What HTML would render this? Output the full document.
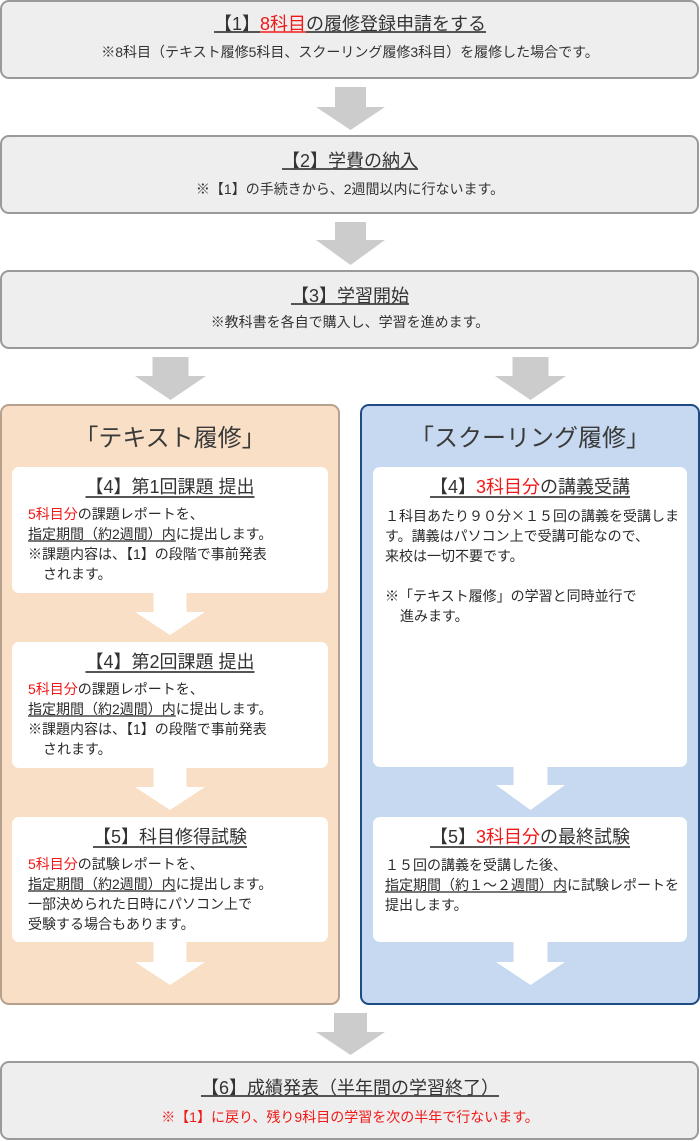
<!DOCTYPE html>
<html><head><meta charset="utf-8">
<style>
html,body{margin:0;padding:0;background:#fff;}
#c{position:relative;width:700px;height:1141px;overflow:hidden;background:#fff;}
svg{position:absolute;left:0;top:0;}
.t{position:absolute;white-space:nowrap;font-family:"Liberation Sans","Noto Sans CJK JP",sans-serif;color:#333;}
.ctr{left:0;width:700px;text-align:center;}
.tt{font-size:18px;line-height:24px;}
.tt .u{text-decoration:underline;text-decoration-thickness:2px;text-underline-offset:1px;text-decoration-color:#555;}
.sub{font-size:14px;line-height:20px;}
.r{color:#f01818;}
.tt .u .r{text-decoration:underline;text-decoration-thickness:2px;text-underline-offset:1px;text-decoration-color:#f05050;}
.hd{font-size:24px;line-height:30px;text-align:center;color:#3a3a3a;}
.it{font-size:18px;line-height:24px;text-align:center;color:#333;}
.it .u{text-decoration:underline;text-decoration-thickness:2px;text-underline-offset:3px;text-decoration-color:#555;}
.bd{font-size:14px;line-height:20px;color:#2a2a2a;}
.bd .u{text-decoration:underline;text-decoration-thickness:2px;text-underline-offset:1px;text-decoration-color:#777;}
.cj{font-family:"Noto Sans CJK JP",sans-serif;}
.ind{padding-left:15px;}
</style></head>
<body><div id="c">
<svg width="700" height="1141" viewBox="0 0 700 1141">
  <rect x="1" y="1" width="697" height="77" rx="8" fill="#eeeeee" stroke="#9a9a9a" stroke-width="2"/>
  <rect x="1" y="136" width="697" height="77" rx="8" fill="#eeeeee" stroke="#9a9a9a" stroke-width="2"/>
  <rect x="1" y="271" width="697" height="77" rx="8" fill="#eeeeee" stroke="#9a9a9a" stroke-width="2"/>
  <rect x="1" y="1062" width="697" height="77" rx="8" fill="#eeeeee" stroke="#9a9a9a" stroke-width="2"/>
  <polygon fill="#cccccc" points="335,87 366,87 366,107 385,107 350.5,130 316,107 335,107"/>
  <polygon fill="#cccccc" points="335,222 366,222 366,240 385,240 350.5,265 316,240 335,240"/>
  <polygon fill="#cccccc" points="152.5,357 188.5,357 188.5,376 206,376 170.5,400 135,376 152.5,376"/>
  <polygon fill="#cccccc" points="512.5,357 548.5,357 548.5,376 566,376 530.5,400 495,376 512.5,376"/>
  <polygon fill="#cccccc" points="334,1013 367,1013 367,1032 385,1032 350.5,1055 316,1032 334,1032"/>
  <rect x="1" y="405" width="338" height="599" rx="8" fill="#f9dfc5" stroke="#b6a18d" stroke-width="2"/>
  <rect x="361" y="405" width="338" height="599" rx="8" fill="#c6d9f0" stroke="#1f4b85" stroke-width="2"/>
  <rect x="12" y="467" width="316" height="126" rx="7" fill="#ffffff"/>
  <rect x="12" y="642" width="316" height="126" rx="7" fill="#ffffff"/>
  <rect x="12" y="817" width="316" height="125" rx="7" fill="#ffffff"/>
  <rect x="373" y="467" width="314" height="300" rx="7" fill="#ffffff"/>
  <rect x="373" y="817" width="314" height="125" rx="7" fill="#ffffff"/>
  <polygon fill="#ffffff" points="153.5,592 186.5,592 186.5,612 205,612 170,635 135,612 153.5,612"/>
  <polygon fill="#ffffff" points="153.5,767 186.5,767 186.5,787 205,787 170,810 135,787 153.5,787"/>
  <polygon fill="#ffffff" points="153.5,941 186.5,941 186.5,962 205,962 170,985 135,962 153.5,962"/>
  <polygon fill="#ffffff" points="513.5,766 547.5,766 547.5,785 565,785 530.5,810 496,785 513.5,785"/>
  <polygon fill="#ffffff" points="513.5,941 547.5,941 547.5,962 565,962 530.5,985 496,962 513.5,962"/>
</svg>

<div class="t ctr tt" style="top:12px;"><span class="u">【1】<span class="r">8科目</span>の履修登録申請をする</span></div>
<div class="t ctr sub" style="top:42px;">※8科目（テキスト履修5科目、スクーリング履修3科目）を履修した場合です。</div>

<div class="t ctr tt" style="top:149px;"><span class="u">【2】学費の納入</span></div>
<div class="t ctr sub" style="top:179px;">※【1】の手続きから、2週間以内に行ないます。</div>

<div class="t ctr tt" style="top:284px;"><span class="u">【3】学習開始</span></div>
<div class="t ctr sub" style="top:312px;">※教科書を各自で購入し、学習を進めます。</div>

<div class="t ctr tt" style="top:1076px;"><span class="u">【6】成績発表（半年間の学習終了）</span></div>
<div class="t ctr sub r" style="top:1107px;">※【1】に戻り、残り9科目の学習を次の半年で行ないます。</div>

<div class="t hd" style="left:1px;width:338px;top:424px;">「テキスト履修」</div>
<div class="t hd" style="left:361px;width:338px;top:424px;">「スクーリング履修」</div>

<div class="t it" style="left:12px;width:316px;top:475px;"><span class="u">【4】第1回課題 提出</span></div>
<div class="t bd" style="left:28px;top:504px;">
<span class="r">5科目分</span>の課題レポートを、<br>
<span class="u">指定期間（約2週間）内</span>に提出します。<br>
※課題内容は、【1】の段階で事前発表<br>
<span class="ind">されます。</span>
</div>

<div class="t it" style="left:12px;width:316px;top:650px;"><span class="u">【4】第2回課題 提出</span></div>
<div class="t bd" style="left:28px;top:679px;">
<span class="r">5科目分</span>の課題レポートを、<br>
<span class="u">指定期間（約2週間）内</span>に提出します。<br>
※課題内容は、【1】の段階で事前発表<br>
<span class="ind">されます。</span>
</div>

<div class="t it" style="left:12px;width:316px;top:825px;"><span class="u">【5】科目修得試験</span></div>
<div class="t bd" style="left:28px;top:854px;">
<span class="r">5科目分</span>の試験レポートを、<br>
<span class="u">指定期間（約2週間）内</span>に提出します。<br>
一部決められた日時にパソコン上で<br>
受験する場合もあります。
</div>

<div class="t it" style="left:373px;width:314px;top:475px;"><span class="u">【4】<span class="r">3科目分</span>の講義受講</span></div>
<div class="t bd" style="left:385px;top:506px;">
１科目あたり９０分<span class="cj">×</span>１５回の講義を受講しま<br>
す。講義はパソコン上で受講可能なので、<br>
来校は一切不要です。<br>
&nbsp;<br>
※「テキスト履修」の学習と同時並行で<br>
<span class="ind">進みます。</span>
</div>

<div class="t it" style="left:373px;width:314px;top:825px;"><span class="u">【5】<span class="r">3科目分</span>の最終試験</span></div>
<div class="t bd" style="left:385px;top:855px;">
１５回の講義を受講した後、<br>
<span class="u">指定期間（約１〜２週間）内</span>に試験レポートを<br>
提出します。
</div>

</div></body></html>
